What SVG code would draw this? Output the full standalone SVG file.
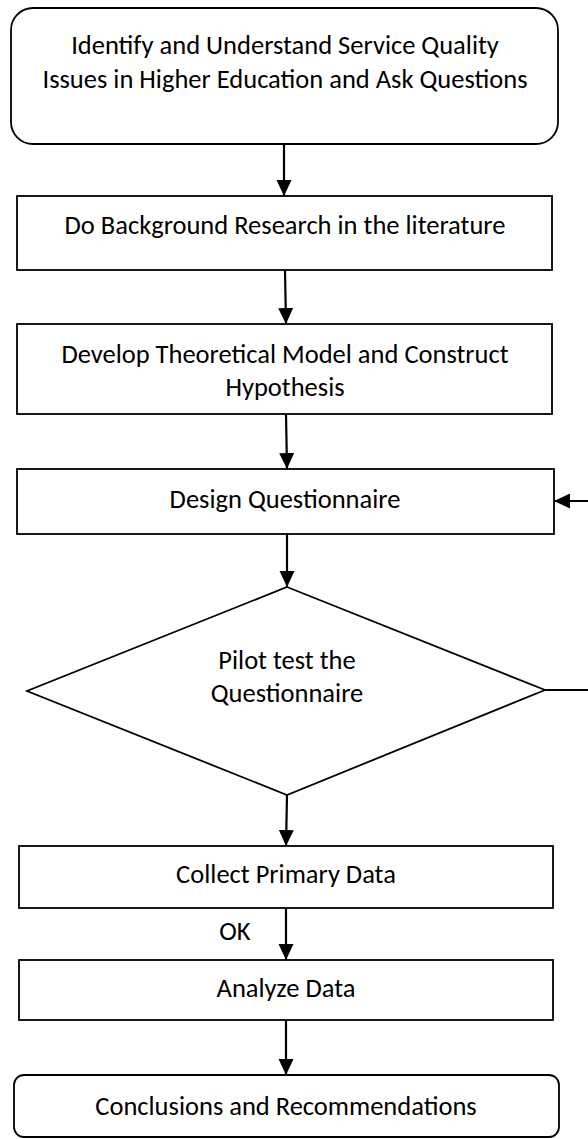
<svg xmlns="http://www.w3.org/2000/svg" width="588" height="1139" viewBox="0 0 588 1139">
  <style>
    .box { fill: #ffffff; stroke: #000000; stroke-width: 1.8; }
    .lbl { font-family: Carlito, Lato, "Open Sans", sans-serif; font-size: 26.5px; fill: #000000; text-anchor: middle; }
    .conn { fill: none; stroke: #000000; stroke-width: 2.2; }
  </style>
  <defs>
    <marker id="arrow" markerUnits="userSpaceOnUse" markerWidth="16" markerHeight="16" refX="16" refY="7.5" orient="auto">
      <path d="M0,0 L16,7.5 L0,15 z" fill="#000000"/>
    </marker>
  </defs>
  <rect width="588" height="1139" fill="#ffffff"/>

  <g id="n1">
    <rect class="box" x="11" y="8" width="547" height="136" rx="22" ry="22"/>
    <text class="lbl" x="285" y="54">Identify and Understand Service Quality</text>
    <text class="lbl" x="285" y="88">Issues in Higher Education and Ask Questions</text>
  </g>
  <g id="n2">
    <rect class="box" x="17" y="196" width="535" height="74"/>
    <text class="lbl" x="285" y="234">Do Background Research in the literature</text>
  </g>
  <g id="n3">
    <rect class="box" x="17" y="324" width="535" height="90"/>
    <text class="lbl" x="285" y="363">Develop Theoretical Model and Construct</text>
    <text class="lbl" x="285" y="396">Hypothesis</text>
  </g>
  <g id="n4">
    <rect class="box" x="17" y="469" width="537" height="65"/>
    <text class="lbl" x="285" y="508">Design Questionnaire</text>
  </g>
  <g id="n5">
    <polygon class="box" points="287,587 545,690 287,795 27,691"/>
    <text class="lbl" x="287" y="669">Pilot test the</text>
    <text class="lbl" x="287" y="702">Questionnaire</text>
  </g>
  <g id="n6">
    <rect class="box" x="19" y="846" width="534" height="62"/>
    <text class="lbl" x="286" y="883">Collect Primary Data</text>
  </g>
  <g id="n7">
    <rect class="box" x="19" y="960" width="534" height="60"/>
    <text class="lbl" x="286" y="997">Analyze Data</text>
  </g>
  <g id="n8">
    <rect class="box" x="14" y="1075" width="545" height="62" rx="10" ry="10"/>
    <text class="lbl" x="286" y="1115">Conclusions and Recommendations</text>
  </g>

  <g id="connectors">
    <line class="conn" x1="284" y1="144" x2="284" y2="196" marker-end="url(#arrow)"/>
    <line class="conn" x1="285" y1="270" x2="286" y2="324" marker-end="url(#arrow)"/>
    <line class="conn" x1="286" y1="414" x2="287" y2="469" marker-end="url(#arrow)"/>
    <line class="conn" x1="287" y1="534" x2="287" y2="587" marker-end="url(#arrow)"/>
    <line class="conn" x1="287" y1="795" x2="286" y2="846" marker-end="url(#arrow)"/>
    <line class="conn" x1="286" y1="908" x2="286" y2="960" marker-end="url(#arrow)"/>
    <line class="conn" x1="286" y1="1020" x2="286" y2="1075" marker-end="url(#arrow)"/>
    <path class="conn" d="M545,690 H600 V501 H554" marker-end="url(#arrow)"/>
    <text class="lbl" x="235" y="940">OK</text>
  </g>
</svg>
